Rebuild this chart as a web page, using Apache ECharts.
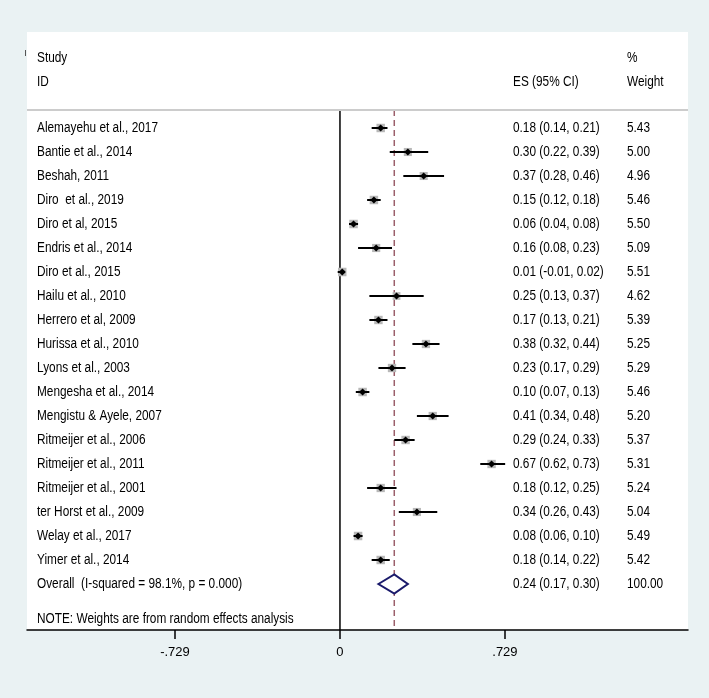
<!DOCTYPE html>
<html>
<head>
<meta charset="utf-8">
<script src="https://cdn.jsdelivr.net/npm/echarts@6/dist/echarts.min.js"></script>
<style>
html,body{margin:0;padding:0;background:#eaf2f3;}
#chart{width:709px;height:698px;}
</style>
</head>
<body>
<div id="chart"></div>
<script>
const studies = ["Alemayehu et al., 2017","Bantie et al., 2014","Beshah, 2011","Diro  et al., 2019","Diro et al, 2015","Endris et al., 2014","Diro et al., 2015","Hailu et al., 2010","Herrero et al, 2009","Hurissa et al., 2010","Lyons et al., 2003","Mengesha et al., 2014","Mengistu & Ayele, 2007","Ritmeijer et al., 2006","Ritmeijer et al., 2011","Ritmeijer et al., 2001","ter Horst et al., 2009","Welay et al., 2017","Yimer et al., 2014"];
const es    = [0.18,0.30,0.37,0.15,0.06,0.16,0.01,0.25,0.17,0.38,0.23,0.10,0.41,0.29,0.67,0.18,0.34,0.08,0.18];
const ciLow = [0.14,0.22,0.28,0.12,0.04,0.08,-0.01,0.13,0.13,0.32,0.17,0.07,0.34,0.24,0.62,0.12,0.26,0.06,0.14];
const ciHigh= [0.21,0.39,0.46,0.18,0.08,0.23,0.02,0.37,0.21,0.44,0.29,0.13,0.48,0.33,0.73,0.25,0.43,0.10,0.22];
const weights=[5.43,5.00,4.96,5.46,5.50,5.09,5.51,4.62,5.39,5.25,5.29,5.46,5.20,5.37,5.31,5.24,5.04,5.49,5.42];
const overallLabel = "Overall  (I-squared = 98.1%, p = 0.000)";
const overall = {es:0.24, lo:0.17, hi:0.30, weight:100.00};
const tickValues = [-0.729, 0, 0.729];
const tickLabels = ["-.729", "0", ".729"];
const noteText = "NOTE: Weights are from random effects analysis";

const FONT = "'Liberation Sans', Arial, Helvetica, sans-serif";
const FS = 14;
const SX = 0.845;
const Y_MIN = -4, Y_MAX = 20.9167;
const X_LABEL = 37, X_ES = 513, X_W = 627;

const fmtCI = (e,l,h) => e.toFixed(2) + " (" + l.toFixed(2) + ", " + h.toFixed(2) + ")";

const rowData = studies.map((s,i) => [i, es[i], ciLow[i], ciHigh[i], weights[i]]);

const chart = echarts.init(document.getElementById('chart'), null, {renderer:'canvas'});

function txt(x, y, t) {
  return {type:'text', x:x, y:y, scaleX:SX, scaleY:1, style:{x:0, y:0, text:t, fill:'#000', font: FS + 'px ' + FONT, textAlign:'left', textVerticalAlign:'middle'}, silent:true};
}

const option = {
  backgroundColor: '#eaf2f3',
  animation: false,
  grid: {left:27, right:21, top:32, bottom:68, show:true, backgroundColor:'#ffffff', borderWidth:0, containLabel:false},
  xAxis: {
    type:'value', min:-1.383, max:1.538,
    axisLine:{show:true, onZero:false, lineStyle:{color:'#000', width:1.5}},
    axisTick:{show:true, customValues: tickValues, length:9, lineStyle:{color:'#000', width:1.5}},
    axisLabel:{show:true, customValues: tickValues, margin:16, color:'#000', fontSize:13, fontFamily:FONT,
      formatter: v => { const k = tickValues.findIndex(t => Math.abs(t - v) < 1e-6); return k >= 0 ? tickLabels[k] : ''; }},
    splitLine:{show:false}
  },
  yAxis: {type:'value', inverse:true, min:Y_MIN, max:Y_MAX, show:false},
  series: [
    {
      type:'custom', silent:true, z:1,
      data: [[0],[overall.es]],
      renderItem: (params, api) => {
        const x = api.value(0);
        const p1 = api.coord([x, -0.75]);
        const p2 = api.coord([x, Y_MAX]);
        if (params.dataIndex === 0) {
          return {type:'line', shape:{x1:p1[0], y1:p1[1], x2:p2[0], y2:p2[1]}, style:{stroke:'#000', lineWidth:1.5}};
        }
        return {type:'line', shape:{x1:p1[0], y1:p1[1], x2:p2[0], y2:p2[1]}, style:{stroke:'#9b5f6b', lineWidth:1.5, lineDash:[6,4]}};
      }
    },
    {
      type:'custom', silent:true, z:3,
      data: rowData,
      renderItem: (params, api) => {
        const i = api.value(0), e = api.value(1), l = api.value(2), h = api.value(3), w = api.value(4);
        const c = api.coord([e, i]);
        const cl = api.coord([l, i]);
        const ch = api.coord([h, i]);
        const s = Math.sqrt(w / 5.5) * 8.5;
        const d = 3.6;
        return {type:'group', children:[
          {type:'rect', shape:{x:c[0]-s/2, y:c[1]-s/2, width:s, height:s}, style:{fill:'#b8b8b8'}},
          {type:'line', shape:{x1:cl[0], y1:c[1], x2:ch[0], y2:c[1]}, style:{stroke:'#000', lineWidth:2}},
          {type:'polygon', shape:{points:[[c[0]-d,c[1]],[c[0],c[1]-d],[c[0]+d,c[1]],[c[0],c[1]+d]]}, style:{fill:'#000'}},
          txt(X_LABEL, c[1], studies[i]),
          txt(X_ES, c[1], fmtCI(e, l, h)),
          txt(X_W, c[1], w.toFixed(2))
        ]};
      }
    },
    {
      type:'custom', silent:true, z:3,
      data: [[studies.length, overall.es, overall.lo, overall.hi, overall.weight]],
      renderItem: (params, api) => {
        const i = api.value(0), e = api.value(1), l = api.value(2), h = api.value(3), w = api.value(4);
        const c = api.coord([e, i]);
        const cl = api.coord([l, i]);
        const ch = api.coord([h, i]);
        const hh = 9.5;
        return {type:'group', children:[
          {type:'polygon', shape:{points:[[cl[0],c[1]],[c[0],c[1]-hh],[ch[0],c[1]],[c[0],c[1]+hh]]}, style:{fill:'#ffffff', stroke:'#1a1a6b', lineWidth:2}},
          txt(X_LABEL, c[1], overallLabel),
          txt(X_ES, c[1], fmtCI(e, l, h)),
          txt(X_W, c[1], w.toFixed(2))
        ]};
      }
    },
    {
      type:'custom', silent:true, z:3,
      data: [[-2.917], [-1.917], [-0.75], [20.458]],
      renderItem: (params, api) => {
        const y = api.coord([0, api.value(0)])[1];
        const k = params.dataIndex;
        if (k === 0) return {type:'group', children:[txt(X_LABEL, y, 'Study'), txt(X_W, y, '%')]};
        if (k === 1) return {type:'group', children:[txt(X_LABEL, y, 'ID'), txt(X_ES, y, 'ES (95% CI)'), txt(X_W, y, 'Weight')]};
        if (k === 2) {
          const a = api.coord([-1.383, api.value(0)]), b = api.coord([1.538, api.value(0)]);
          return {type:'line', shape:{x1:a[0], y1:y, x2:b[0], y2:y}, style:{stroke:'#cccccc', lineWidth:2}};
        }
        return txt(X_LABEL, y, noteText);
      }
    }
  ],
  graphic: [
    {type:'line', shape:{x1:25.5, y1:50, x2:25.5, y2:56}, style:{stroke:'#555', lineWidth:1}, silent:true}
  ]
};
chart.setOption(option);
</script>
</body>
</html>
